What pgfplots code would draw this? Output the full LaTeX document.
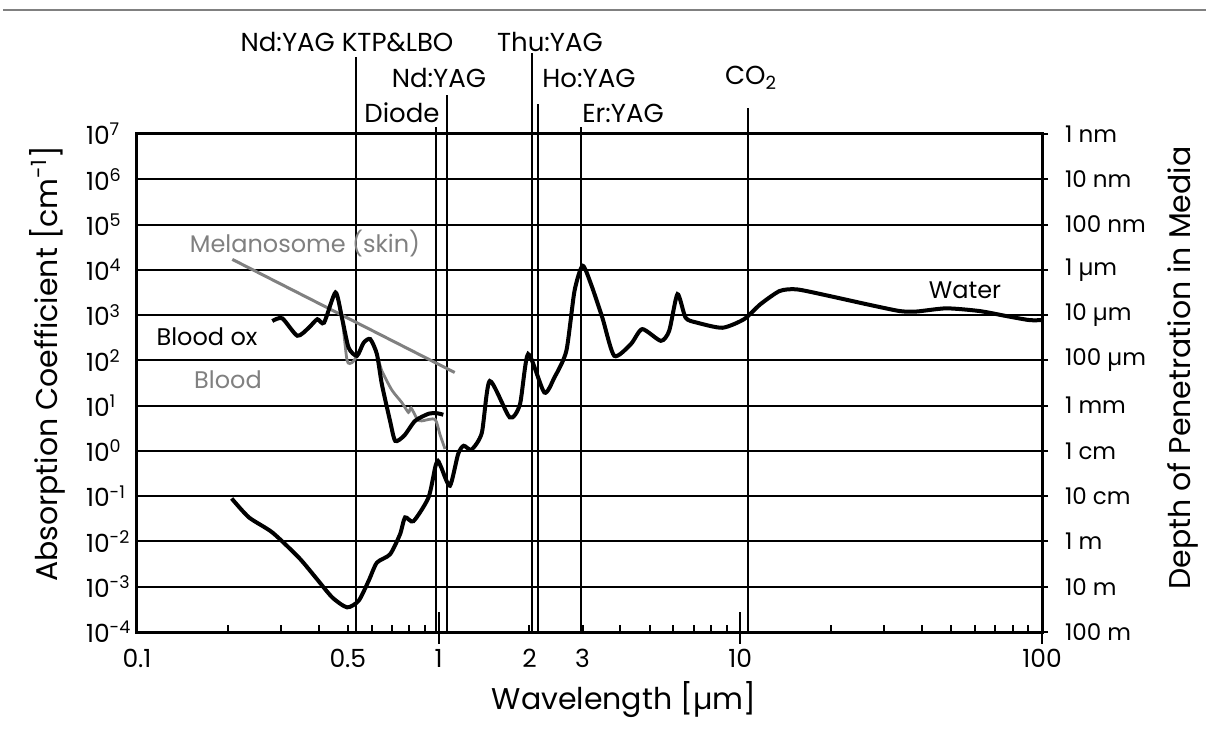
\documentclass[border=0pt]{standalone}
\usepackage{pgfplots}
\pgfplotsset{compat=1.18}
\usepackage{fontspec}
\setmainfont{Poppins}
\definecolor{curvegray}{RGB}{128,128,128}
\newcommand{\fs}[1]{\fontsize{#1}{#1}\selectfont}

\begin{document}
\begin{tikzpicture}
\useasboundingbox (0,0) rectangle (603bp,365.5bp);
\fill[white] (0,0) rectangle (603bp,365.5bp);
\draw[gray, line width=1bp] (1.5bp,360.5bp) -- (603bp,360.5bp);

\begin{axis}[
  at={(68.5bp,49.5bp)}, anchor=south west,
  scale only axis, width=452.5bp, height=249bp,
  xmode=log, ymode=log,
  xmin=0.1, xmax=100, ymin=1e-4, ymax=1e7,
  clip=false,
  axis line style={line width=1.5bp},
  ytick={1e-4,1e-3,1e-2,1e-1,1,1e1,1e2,1e3,1e4,1e5,1e6,1e7},
  yticklabels={10\textsuperscript{-4},10\textsuperscript{-3},10\textsuperscript{-2},10\textsuperscript{-1},10\textsuperscript{0},10\textsuperscript{1},10\textsuperscript{2},10\textsuperscript{3},10\textsuperscript{4},10\textsuperscript{5},10\textsuperscript{6},10\textsuperscript{7}},
  ymajorgrids, grid style={black, line width=1bp},
  ytick style={draw=none}, minor y tick style={draw=none}, ytick pos=left,
  yticklabel style={anchor=west, xshift=-29bp, font=\fs{12.5bp}},
  xtick={0.1,1,10,100}, xticklabels={0.1,1,10,100},
  extra x ticks={0.5,2,3}, extra x tick labels={0.5,2,3},
  extra x tick style={major tick length=3.5bp},
  minor xtick={0.2,0.3,0.4,0.6,0.7,0.8,0.9,4,5,6,7,8,9,20,30,40,50,60,70,80,90},
  xtick pos=bottom, xtick align=inside,
  major tick length=10bp, minor tick length=3.5bp,
  tick style={black, line width=1bp},
  xticklabel style={font=\fs{12.5bp}, yshift=-5bp},
  xlabel={Wavelength [µm]},
  xlabel style={font=\fs{15bp}, at={(axis description cs:0.538,-0.1365)}, anchor=center},
  ylabel={Absorption Coefficient [cm\textsuperscript{-1}]},
  ylabel style={font=\fs{15bp}, at={(axis description cs:-0.0994,0.538)}, anchor=center},
]
% laser lines
\addplot[black, line width=1bp] coordinates {(0.532,1e-4) (0.532,4.9e8)};
\addplot[black, line width=1bp] coordinates {(0.98,1e-4) (0.98,1.45e7)};
\addplot[black, line width=1bp] coordinates {(1.064,1e-4) (1.064,7.2e7)};
\addplot[black, line width=1bp] coordinates {(2.04,1e-4) (2.04,6.3e8)};
\addplot[black, line width=1bp] coordinates {(2.13,1e-4) (2.13,4.7e7)};
\addplot[black, line width=1bp] coordinates {(2.97,1e-4) (2.97,1.45e7)};
\addplot[black, line width=1bp] coordinates {(10.6,1e-4) (10.6,3.8e7)};

% melanosome
\addplot[curvegray, line width=1.5bp] coordinates {(0.207,17000) (1.13,54)};

% blood (deoxy)
\addplot[curvegray, line width=1.4bp, smooth, tension=0.4] coordinates {
(0.281,740) (0.303,850) (0.340,350) (0.371,525) (0.396,810) (0.417,680)
(0.455,3160) (0.478,870) (0.497,100) (0.516,89) (0.536,126) (0.564,245)
(0.593,295) (0.624,138) (0.648,59) (0.70,22) (0.755,11.7) (0.794,7.1)
(0.81,8.9) (0.85,5) (0.879,4.6) (0.972,5) (1.01,2.3) (1.05,1.1)};

% blood ox
\addplot[black, line width=2bp, smooth, tension=0.4] coordinates {
(0.281,740) (0.303,850) (0.340,350) (0.371,525) (0.396,810) (0.417,680)
(0.455,3160) (0.478,870) (0.503,190) (0.536,126) (0.564,245) (0.593,295)
(0.624,138) (0.648,30) (0.69,4.6) (0.718,1.66) (0.77,2.2) (0.835,4.6)
(0.925,6.6) (0.985,6.8) (1.036,6.3)};

% water
\addplot[black, line width=2bp, smooth, tension=0.4] coordinates {
(0.206,0.089) (0.235,0.034) (0.281,0.0158) (0.344,0.0044) (0.391,0.0016)
(0.444,5.8e-4) (0.497,3.5e-4) (0.543,4.9e-4) (0.586,1.35e-3) (0.624,3.4e-3)
(0.69,5.2e-3) (0.745,0.0145) (0.774,0.034) (0.825,0.028) (0.925,0.093)
(0.975,0.45) (0.995,0.6) (1.02,0.43) (1.09,0.17) (1.16,0.85) (1.21,1.3)
(1.285,1.07) (1.39,2.5) (1.477,35) (1.72,5.5) (1.86,10.7) (1.98,138)
(2.24,19.5) (2.42,42) (2.65,162) (2.82,3400) (3.0,12300) (3.2,4800)
(3.49,870) (3.82,126) (4.34,230) (4.73,490) (5.45,270) (5.81,450)
(6.19,2900) (6.59,870) (7.19,680) (8.72,525) (10.28,810) (11.66,1740)
(13.5,3400) (15.4,3700) (19.8,2630) (26.2,1740) (33.7,1230) (38.4,1200)
(48.2,1410) (62,1230) (76,955) (90.7,776) (100,776)};

% lower part of the long ticks
\draw[line width=1bp] (axis cs:1,1e-4) -- ([yshift=-6bp]axis cs:1,1e-4);
\draw[line width=1bp] (axis cs:10,1e-4) -- ([yshift=-6bp]axis cs:10,1e-4);
\draw[line width=1bp] (axis cs:100,1e-4) -- ([yshift=-6bp]axis cs:100,1e-4);
\end{axis}

\begin{axis}[
  at={(68.5bp,49.5bp)}, anchor=south west,
  scale only axis, width=452.5bp, height=249bp,
  xmode=log, ymode=log,
  xmin=0.1, xmax=100, ymin=1e-4, ymax=1e7,
  axis x line=none, axis y line*=right,
  axis line style={line width=1.5bp},
  ytick={1e-4,1e-3,1e-2,1e-1,1,1e1,1e2,1e3,1e4,1e5,1e6,1e7},
  yticklabels={100 m,10 m,1 m,10 cm,1 cm,1 mm,100 µm,10 µm,1 µm,100 nm,10 nm,1 nm},
  minor y tick style={draw=none},
  ytick align=outside, major tick length=3bp,
  tick style={black, line width=1bp},
  yticklabel style={anchor=west, font=\fs{11.5bp}, xshift=5bp},
  ylabel={Depth of Penetration in Media},
  ylabel style={font=\fs{15bp}, at={(axis description cs:1.1558,0.530)}, anchor=center},
]
\end{axis}

% annotations
\node[font=\fs{12bp}, text=curvegray] at (152.5bp,243.5bp) {Melanosome (skin)};
\node[font=\fs{12bp}] at (103.5bp,197bp) {Blood ox};
\node[font=\fs{12bp}, text=curvegray] at (114bp,175.5bp) {Blood};
\node[font=\fs{12bp}] at (482.5bp,220.5bp) {Water};

\node[font=\fs{13bp}] at (173.5bp,344.5bp) {Nd:YAG KTP\&LBO};
\node[font=\fs{13bp}] at (275bp,344.5bp) {Thu:YAG};
\node[font=\fs{13bp}] at (219.5bp,326.5bp) {Nd:YAG};
\node[font=\fs{13bp}] at (294.5bp,326.5bp) {Ho:YAG};
\node[font=\fs{13bp}] at (375.5bp,326.5bp) {CO\textsubscript{2}};
\node[font=\fs{13bp}] at (201bp,309bp) {Diode};
\node[font=\fs{13bp}] at (311.5bp,309bp) {Er:YAG};
\end{tikzpicture}
\end{document}
